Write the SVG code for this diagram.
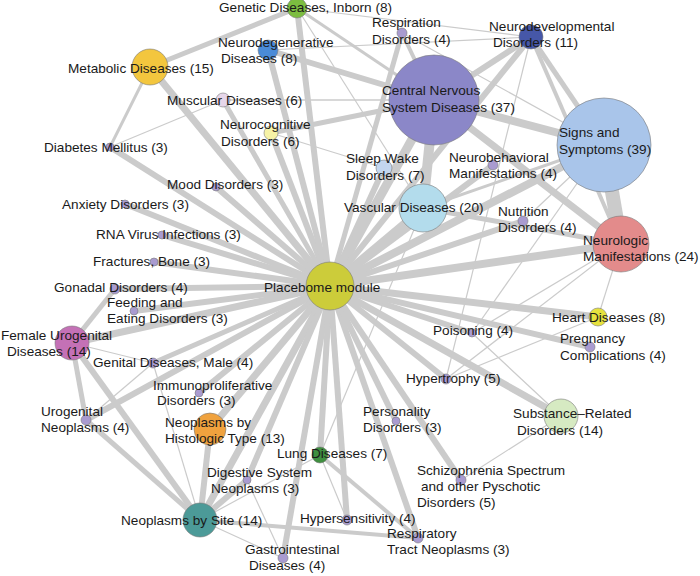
<svg xmlns="http://www.w3.org/2000/svg" width="700" height="576" viewBox="0 0 700 576">
<style>
text{font-family:"Liberation Sans",Arial,sans-serif;font-size:13.6px;fill:#1a1a1a}
.e line{stroke:#cbcbcb;stroke-linecap:butt}
circle{stroke:#7a7a7a;stroke-width:0.6}
.s{fill:#a99bd0}
</style>
<rect width="700" height="576" fill="#fff"/>
<g id="edges" class="e">
<line x1="330" y1="286" x2="150" y2="67" stroke-width="7"/>
<line x1="330" y1="286" x2="110" y2="147" stroke-width="6"/>
<line x1="330" y1="286" x2="216" y2="187" stroke-width="6"/>
<line x1="330" y1="286" x2="125" y2="204" stroke-width="6"/>
<line x1="330" y1="286" x2="162" y2="235" stroke-width="6"/>
<line x1="330" y1="286" x2="154" y2="262" stroke-width="6"/>
<line x1="330" y1="286" x2="115" y2="289" stroke-width="6"/>
<line x1="330" y1="286" x2="134" y2="311" stroke-width="6"/>
<line x1="330" y1="286" x2="72" y2="343" stroke-width="7"/>
<line x1="330" y1="286" x2="153" y2="363" stroke-width="5"/>
<line x1="330" y1="286" x2="199" y2="393" stroke-width="6"/>
<line x1="330" y1="286" x2="86" y2="420" stroke-width="6"/>
<line x1="330" y1="286" x2="210" y2="429" stroke-width="7"/>
<line x1="330" y1="286" x2="200" y2="520" stroke-width="7"/>
<line x1="330" y1="286" x2="247" y2="480" stroke-width="6"/>
<line x1="330" y1="286" x2="283" y2="558" stroke-width="6"/>
<line x1="330" y1="286" x2="320" y2="455" stroke-width="6"/>
<line x1="330" y1="286" x2="347" y2="520" stroke-width="6"/>
<line x1="330" y1="286" x2="418" y2="538" stroke-width="6"/>
<line x1="330" y1="286" x2="396" y2="421" stroke-width="6"/>
<line x1="330" y1="286" x2="461" y2="480" stroke-width="6"/>
<line x1="330" y1="286" x2="561" y2="416" stroke-width="7"/>
<line x1="330" y1="286" x2="446" y2="379" stroke-width="6"/>
<line x1="330" y1="286" x2="472" y2="333" stroke-width="6"/>
<line x1="330" y1="286" x2="590" y2="347" stroke-width="6"/>
<line x1="330" y1="286" x2="598" y2="317" stroke-width="7"/>
<line x1="330" y1="286" x2="621" y2="244" stroke-width="8"/>
<line x1="330" y1="286" x2="523" y2="221" stroke-width="6"/>
<line x1="330" y1="286" x2="604" y2="145" stroke-width="8"/>
<line x1="330" y1="286" x2="493" y2="165" stroke-width="6"/>
<line x1="330" y1="286" x2="423" y2="208" stroke-width="8"/>
<line x1="330" y1="286" x2="384" y2="168" stroke-width="6"/>
<line x1="330" y1="286" x2="434" y2="100" stroke-width="9"/>
<line x1="330" y1="286" x2="402" y2="33" stroke-width="5"/>
<line x1="330" y1="286" x2="531" y2="37" stroke-width="6"/>
<line x1="330" y1="286" x2="271" y2="133" stroke-width="6"/>
<line x1="330" y1="286" x2="223" y2="100" stroke-width="5"/>
<line x1="330" y1="286" x2="268" y2="50" stroke-width="6"/>
<line x1="330" y1="286" x2="297" y2="8" stroke-width="6"/>
<line x1="434" y1="100" x2="604" y2="145" stroke-width="8"/>
<line x1="434" y1="100" x2="531" y2="37" stroke-width="6"/>
<line x1="531" y1="37" x2="604" y2="145" stroke-width="5"/>
<line x1="531" y1="37" x2="621" y2="244" stroke-width="4"/>
<line x1="604" y1="145" x2="621" y2="244" stroke-width="14"/>
<line x1="434" y1="100" x2="423" y2="208" stroke-width="10"/>
<line x1="434" y1="100" x2="621" y2="244" stroke-width="7"/>
<line x1="434" y1="100" x2="268" y2="50" stroke-width="6"/>
<line x1="434" y1="100" x2="297" y2="8" stroke-width="3"/>
<line x1="434" y1="100" x2="223" y2="100" stroke-width="1.5"/>
<line x1="434" y1="100" x2="271" y2="133" stroke-width="5"/>
<line x1="434" y1="100" x2="402" y2="33" stroke-width="4"/>
<line x1="150" y1="67" x2="297" y2="8" stroke-width="5"/>
<line x1="150" y1="67" x2="110" y2="147" stroke-width="3"/>
<line x1="223" y1="100" x2="110" y2="147" stroke-width="1.2"/>
<line x1="72" y1="343" x2="115" y2="289" stroke-width="5"/>
<line x1="72" y1="343" x2="153" y2="363" stroke-width="1.2"/>
<line x1="72" y1="343" x2="86" y2="420" stroke-width="5"/>
<line x1="72" y1="343" x2="200" y2="520" stroke-width="6"/>
<line x1="200" y1="520" x2="86" y2="420" stroke-width="5"/>
<line x1="200" y1="520" x2="210" y2="429" stroke-width="6"/>
<line x1="200" y1="520" x2="247" y2="480" stroke-width="6"/>
<line x1="200" y1="520" x2="283" y2="558" stroke-width="1.2"/>
<line x1="200" y1="520" x2="418" y2="538" stroke-width="4"/>
<line x1="200" y1="520" x2="153" y2="363" stroke-width="1.2"/>
<line x1="200" y1="520" x2="320" y2="455" stroke-width="1.2"/>
<line x1="86" y1="420" x2="153" y2="363" stroke-width="1.2"/>
<line x1="320" y1="455" x2="418" y2="538" stroke-width="4"/>
<line x1="320" y1="455" x2="347" y2="520" stroke-width="1.2"/>
<line x1="320" y1="455" x2="423" y2="208" stroke-width="1.2"/>
<line x1="283" y1="558" x2="247" y2="480" stroke-width="1.2"/>
<line x1="561" y1="416" x2="461" y2="480" stroke-width="1.2"/>
<line x1="561" y1="416" x2="472" y2="333" stroke-width="1.2"/>
<line x1="446" y1="379" x2="598" y2="317" stroke-width="1.2"/>
<line x1="604" y1="145" x2="423" y2="208" stroke-width="3"/>
<line x1="423" y1="208" x2="621" y2="244" stroke-width="5"/>
<line x1="598" y1="317" x2="621" y2="244" stroke-width="1.2"/>
<line x1="621" y1="244" x2="472" y2="333" stroke-width="1.2"/>
<line x1="604" y1="145" x2="472" y2="333" stroke-width="1.2"/>
<line x1="621" y1="244" x2="446" y2="379" stroke-width="1.2"/>
<line x1="604" y1="145" x2="523" y2="221" stroke-width="1.2"/>
<line x1="531" y1="37" x2="446" y2="379" stroke-width="1.2"/>
<line x1="297" y1="8" x2="531" y2="37" stroke-width="1.2"/>
<line x1="268" y1="50" x2="531" y2="37" stroke-width="1.2"/>
<line x1="402" y1="33" x2="604" y2="145" stroke-width="1.2"/>
<line x1="271" y1="133" x2="384" y2="168" stroke-width="1.2"/>
<line x1="297" y1="8" x2="423" y2="208" stroke-width="1.2"/>
</g>
<g id="n-placebome"><circle cx="330" cy="286" r="24" fill="#cccc3a"/><text x="264" y="292">Placebome module</text></g>
<g id="n-cns"><circle cx="434" cy="100" r="45" fill="#8b87c8"/><text x="382" y="95">Central Nervous</text><text x="382" y="112">System Diseases (37)</text></g>
<g id="n-signs"><circle cx="604" cy="145" r="47" fill="#a9c5ea"/><text x="559" y="137">Signs and</text><text x="559" y="154">Symptoms (39)</text></g>
<g id="n-neurologic"><circle cx="621" cy="244" r="28" fill="#e38b8b"/><text x="583" y="245">Neurologic</text><text x="583" y="261">Manifestations (24)</text></g>
<g id="n-vascular"><circle cx="423" cy="208" r="24" fill="#b3dcec"/><text x="344" y="212">Vascular Diseases (20)</text></g>
<g id="n-neurodev"><circle cx="531" cy="37" r="12" fill="#4657a8"/><text x="489" y="31">Neurodevelopmental</text><text x="493" y="47">Disorders (11)</text></g>
<g id="n-metabolic"><circle cx="150" cy="67" r="18" fill="#f3c63e"/><text x="68" y="73">Metabolic Diseases (15)</text></g>
<g id="n-genetic"><circle cx="297" cy="8" r="10" fill="#7cbd40"/><text x="219" y="12">Genetic Diseases, Inborn (8)</text></g>
<g id="n-neurodeg"><circle cx="268" cy="50" r="10" fill="#4a8bd8"/><text x="218" y="47">Neurodegenerative</text><text x="221" y="63">Diseases (8)</text></g>
<g id="n-respiration"><circle cx="402" cy="33" r="5" class="s"/><text x="372" y="27">Respiration</text><text x="372" y="44">Disorders (4)</text></g>
<g id="n-muscular"><circle cx="223" cy="100" r="7" fill="#e6d6ea"/><text x="167" y="105">Muscular Diseases (6)</text></g>
<g id="n-neurocog"><circle cx="271" cy="133" r="7" fill="#f7f3a6"/><text x="220" y="129">Neurocognitive</text><text x="221" y="146">Disorders (6)</text></g>
<g id="n-diabetes"><circle cx="110" cy="147" r="4" class="s"/><text x="44" y="152">Diabetes Mellitus (3)</text></g>
<g id="n-mood"><circle cx="216" cy="187" r="4" class="s"/><text x="167" y="189">Mood Disorders (3)</text></g>
<g id="n-anxiety"><circle cx="125" cy="204" r="4" class="s"/><text x="62" y="209">Anxiety Disorders (3)</text></g>
<g id="n-rna"><circle cx="162" cy="235" r="4" class="s"/><text x="96" y="239">RNA Virus Infections (3)</text></g>
<g id="n-fractures"><circle cx="154" cy="262" r="4" class="s"/><text x="93" y="266">Fractures, Bone (3)</text></g>
<g id="n-gonadal"><circle cx="115" cy="289" r="5" class="s"/><text x="54" y="292">Gonadal Disorders (4)</text></g>
<g id="n-feeding"><circle cx="134" cy="311" r="4" class="s"/><text x="107" y="307">Feeding and</text><text x="107" y="323">Eating Disorders (3)</text></g>
<g id="n-female"><circle cx="72" cy="343" r="17" fill="#c471b6"/><text x="1" y="340">Female Urogenital</text><text x="7" y="356">Diseases (14)</text></g>
<g id="n-genitalmale"><circle cx="153" cy="363" r="5" class="s"/><text x="93" y="367">Genital Diseases, Male (4)</text></g>
<g id="n-immuno"><circle cx="199" cy="393" r="4" class="s"/><text x="153" y="390">Immunoproliferative</text><text x="157" y="405">Disorders (3)</text></g>
<g id="n-urogenital"><circle cx="86" cy="420" r="5" class="s"/><text x="41" y="416">Urogenital</text><text x="41" y="432">Neoplasms (4)</text></g>
<g id="n-histologic"><circle cx="210" cy="429" r="16" fill="#f0a23e"/><text x="165" y="427">Neoplasms by</text><text x="165" y="443">Histologic Type (13)</text></g>
<g id="n-site"><circle cx="200" cy="520" r="17" fill="#4c9a98"/><text x="121" y="525">Neoplasms by Site (14)</text></g>
<g id="n-digestive"><circle cx="247" cy="480" r="4" class="s"/><text x="207" y="477">Digestive System</text><text x="211" y="493">Neoplasms (3)</text></g>
<g id="n-lung"><circle cx="320" cy="455" r="8" fill="#3f8f3f"/><text x="277" y="458">Lung Diseases (7)</text></g>
<g id="n-hypersens"><circle cx="347" cy="520" r="5" class="s"/><text x="300" y="523">Hypersensitivity (4)</text></g>
<g id="n-resptract"><circle cx="418" cy="538" r="5" class="s"/><text x="387" y="538">Respiratory</text><text x="387" y="554">Tract Neoplasms (3)</text></g>
<g id="n-gastro"><circle cx="283" cy="558" r="5" class="s"/><text x="245" y="554">Gastrointestinal</text><text x="249" y="570">Diseases (4)</text></g>
<g id="n-schizo"><circle cx="461" cy="480" r="5" class="s"/><text x="417" y="475">Schizophrenia Spectrum</text><text x="421" y="491">and other Pyschotic</text><text x="417" y="507">Disorders (5)</text></g>
<g id="n-personality"><circle cx="396" cy="421" r="4" class="s"/><text x="363" y="416">Personality</text><text x="363" y="432">Disorders (3)</text></g>
<g id="n-hypertrophy"><circle cx="446" cy="379" r="5" class="s"/><text x="406" y="383">Hypertrophy (5)</text></g>
<g id="n-poisoning"><circle cx="472" cy="333" r="4" class="s"/><text x="433" y="335">Poisoning (4)</text></g>
<g id="n-substance"><circle cx="561" cy="416" r="17" fill="#d6eac2"/><text x="513" y="418">Substance–Related</text><text x="517" y="435">Disorders (14)</text></g>
<g id="n-heart"><circle cx="598" cy="317" r="9" fill="#e6e13e"/><text x="552" y="322">Heart Diseases (8)</text></g>
<g id="n-pregnancy"><circle cx="590" cy="347" r="5" class="s"/><text x="560" y="343">Pregnancy</text><text x="560" y="360">Complications (4)</text></g>
<g id="n-nutrition"><circle cx="523" cy="221" r="5" class="s"/><text x="498" y="216">Nutrition</text><text x="498" y="232">Disorders (4)</text></g>
<g id="n-neurobehav"><circle cx="493" cy="165" r="5" class="s"/><text x="449" y="162">Neurobehavioral</text><text x="449" y="178">Manifestations (4)</text></g>
<g id="n-sleep"><circle cx="384" cy="168" r="8" fill="#c3d6ef"/><text x="346" y="163">Sleep Wake</text><text x="346" y="180">Disorders (7)</text></g>
</svg>
